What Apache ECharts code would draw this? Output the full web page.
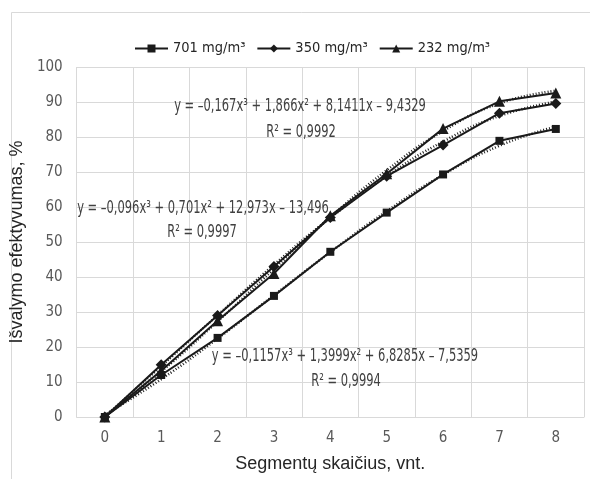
<!DOCTYPE html>
<html><head><meta charset="utf-8">
<script src="https://cdn.jsdelivr.net/npm/echarts@6/dist/echarts.min.js"></script>
<style>html,body{margin:0;padding:0;background:#fff}#c{width:590px;height:479px}</style>
</head><body><div id="c"></div>
<script>
const categories = ['0','1','2','3','4','5','6','7','8'];
const s701 = [0, 12.0, 22.6, 34.6, 47.2, 58.4, 69.3, 78.9, 82.3];
const s350 = [0, 14.9, 29.0, 43.0, 57.0, 68.8, 77.7, 86.8, 89.6];
const s232 = [0, 13.2, 27.5, 41.0, 57.5, 69.5, 82.4, 90.2, 92.6];
const trend701 = [0.6, 10.8, 22.4, 34.8, 47.1, 58.8, 69.2, 77.5, 83.0];
const trend350 = [0.1, 14.5, 29.1, 43.5, 56.9, 68.8, 78.7, 86.0, 90.1];
const trend232 = [0.4, 13.0, 27.3, 42.3, 57.1, 70.5, 81.7, 89.6, 93.2];
const seriesNames = ['701 mg/m³', '350 mg/m³', '232 mg/m³'];
const eqTexts = [
  'y = –0,167x³ + 1,866x² + 8,1411x – 9,4329', 'R² = 0,9992',
  'y = –0,096x³ + 0,701x² + 12,973x – 13,496', 'R² = 0,9997',
  'y = –0,1157x³ + 1,3999x² + 6,8285x – 7,5359', 'R² = 0,9994'
];
const NARROW = '"Liberation Sans Narrow", "DejaVu Sans Condensed", "Roboto Condensed", sans-serif';
const SANS = '"Liberation Sans", Arial, sans-serif';
const chart = echarts.init(document.getElementById('c'), null, {renderer:'canvas'});
const ink = '#1a1a1a';
function mainSeries(name, data, symbol, size){
  return {name, type:'line', data, symbol, symbolSize:size, z:5,
    lineStyle:{color:ink, width:2}, itemStyle:{color:ink}};
}
function trendSeries(data){
  return {type:'line', data, smooth:0.5, symbol:'none', z:4, silent:true,
    lineStyle:{color:ink, width:2.5, type:[1,2]}};
}
function eq(text, x, y){
  return {type:'text', x, y, scaleX:0.75, z:20,
    style:{text, fill:'#404040', font:'17px ' + NARROW, textAlign:'center', textVerticalAlign:'middle'}};
}
chart.setOption({
  animation:false,
  backgroundColor:'#fff',
  grid:{left:76, right:6, top:67, bottom:62},
  legend:{top:36, left:129, itemGap:11, itemWidth:33, itemHeight:10,
    data:seriesNames,
    textStyle:{color:'#262626', fontSize:14.5, fontFamily:NARROW}},
  xAxis:{type:'category', data:categories, boundaryGap:true,
    name:'Segmentų skaičius, vnt.', nameLocation:'middle', nameGap:38,
    nameTextStyle:{color:'#262626', fontSize:18, fontFamily:SANS},
    axisLine:{show:true, lineStyle:{color:'#d9d9d9'}}, axisTick:{show:false},
    axisLabel:{color:'#595959', fontSize:15, fontFamily:NARROW, margin:14},
    splitLine:{show:true, lineStyle:{color:'#d9d9d9', width:1}}},
  yAxis:{type:'value', min:0, max:100, interval:10,
    name:'Išvalymo efektyvumas, %', nameLocation:'middle', nameGap:39,
    nameTextStyle:{color:'#262626', fontSize:18, fontFamily:SANS},
    axisLine:{show:false}, axisTick:{show:false},
    axisLabel:{color:'#595959', fontSize:15, fontFamily:NARROW, margin:14},
    splitLine:{show:true, lineStyle:{color:'#d9d9d9', width:1}}},
  series:[
    mainSeries(seriesNames[0], s701, 'rect', 8),
    mainSeries(seriesNames[1], s350, 'diamond', 11),
    mainSeries(seriesNames[2], s232, 'triangle', 11),
    trendSeries(trend701), trendSeries(trend350), trendSeries(trend232)
  ],
  graphic:[
    {type:'rect', shape:{x:11.5, y:12.5, width:600, height:480}, style:{fill:'none', stroke:'#d9d9d9', lineWidth:1}, z:-10, silent:true},
    eq(eqTexts[0], 300, 107), eq(eqTexts[1], 301, 133),
    eq(eqTexts[2], 203, 209), eq(eqTexts[3], 202, 233),
    eq(eqTexts[4], 345, 357), eq(eqTexts[5], 346, 382)
  ]
});
</script></body></html>
